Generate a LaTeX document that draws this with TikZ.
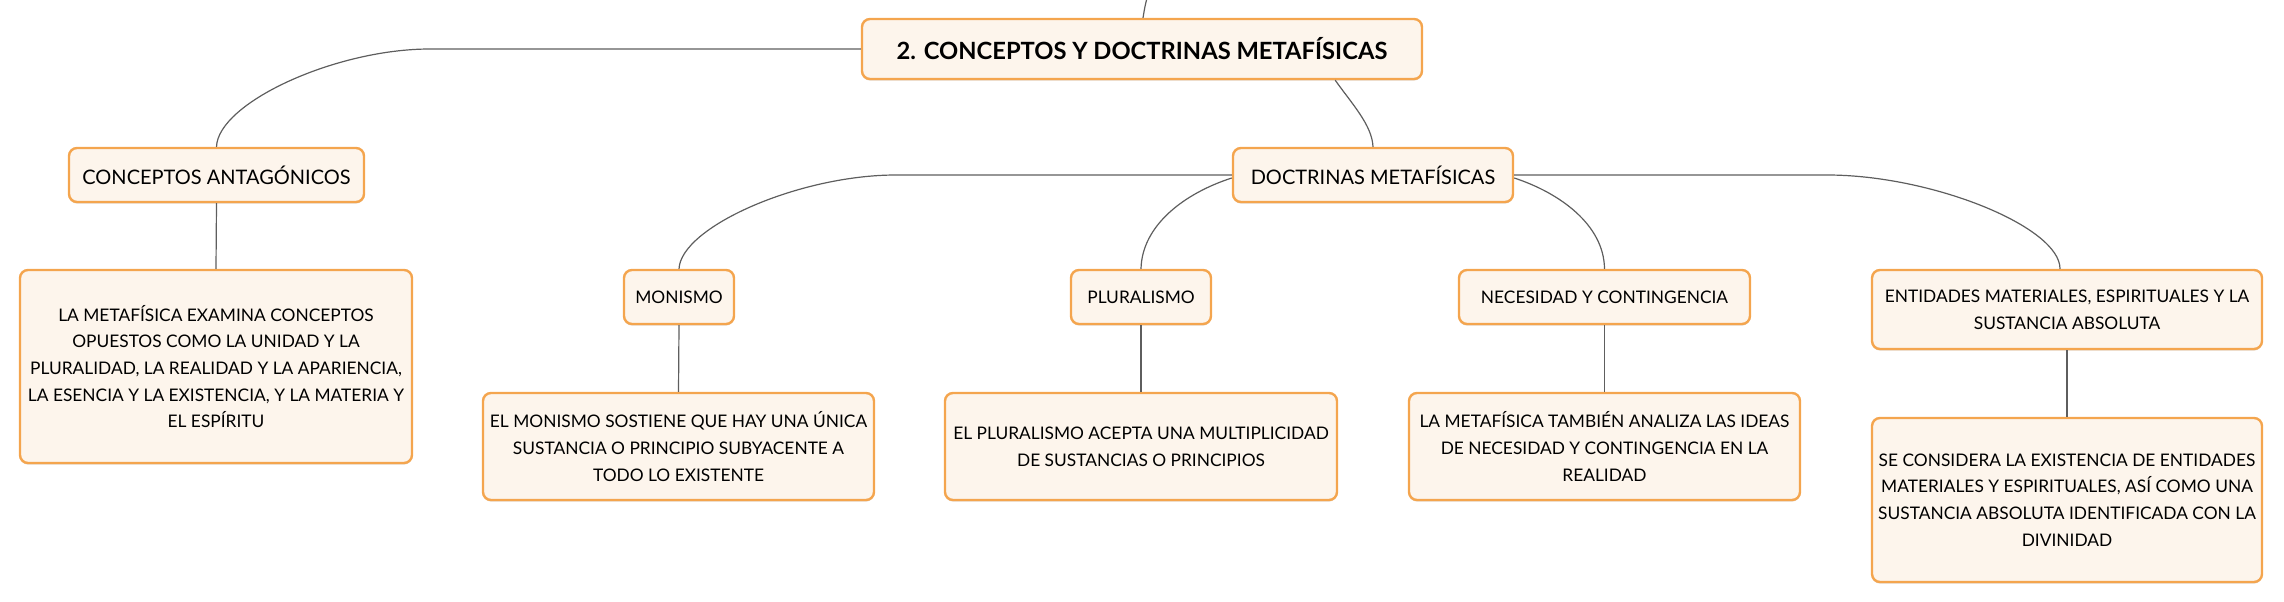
\documentclass[tikz,border=0pt]{standalone}
\usepackage{fontspec}
\setmainfont{Lato}
\usetikzlibrary{shadows}
\definecolor{boxfill}{HTML}{FDF5EC}
\definecolor{boxline}{HTML}{F4A54E}
\definecolor{connc}{HTML}{5E5E5E}
\begin{document}
\begin{tikzpicture}[x=0.75pt,y=-0.75pt,
  box/.style={draw=boxline, fill=boxfill, line width=1.8pt, rounded corners=6pt,
    inner sep=0pt, align=center, text=black,
    drop shadow={shadow xshift=0pt, shadow yshift=-1.2pt, fill=boxline!60!black, opacity=0.25}},
  sz/.style 2 args={minimum width=#1*0.75pt, minimum height=#2*0.75pt},
  rootfont/.style={font=\fontsize{17.8}{20}\selectfont\bfseries},
  midfont/.style={font=\fontsize{15}{18}\selectfont},
  descfont/.style={font=\fontsize{13}{20}\selectfont},
  conn/.style={draw=connc, line width=0.9pt}]
\useasboundingbox (0,0) rectangle (2284,602);

% nodes
\node[box, rootfont, sz={560}{60}] (root) at (1142,49) {2. CONCEPTOS Y DOCTRINAS METAFÍSICAS};
\node[box, midfont, sz={295}{54}] (antag) at (216.5,175) {CONCEPTOS ANTAGÓNICOS};
\node[box, midfont, sz={280}{54}] (doct) at (1373,175) {DOCTRINAS METAFÍSICAS};

\node[box, descfont, sz={392}{193}] (antagd) at (216,366.5) {LA METAFÍSICA EXAMINA CONCEPTOS\\OPUESTOS COMO LA UNIDAD Y LA\\PLURALIDAD, LA REALIDAD Y LA APARIENCIA,\\LA ESENCIA Y LA EXISTENCIA, Y LA MATERIA Y\\EL ESPÍRITU};

\node[box, descfont, sz={110}{54}] (mon) at (679,297) {MONISMO};
\node[box, descfont, sz={140}{54}] (plu) at (1141,297) {PLURALISMO};
\node[box, descfont, sz={291}{54}] (nec) at (1604.5,297) {NECESIDAD Y CONTINGENCIA};
\node[box, descfont, sz={390}{79}] (ent) at (2067,309.5) {ENTIDADES MATERIALES, ESPIRITUALES Y LA\\SUSTANCIA ABSOLUTA};

\node[box, descfont, sz={391}{107}] (mond) at (678.5,446.5) {EL MONISMO SOSTIENE QUE HAY UNA ÚNICA\\SUSTANCIA O PRINCIPIO SUBYACENTE A\\TODO LO EXISTENTE};
\node[box, descfont, sz={392}{107}] (plud) at (1141,446.5) {EL PLURALISMO ACEPTA UNA MULTIPLICIDAD\\DE SUSTANCIAS O PRINCIPIOS};
\node[box, descfont, sz={391}{107}] (necd) at (1604.5,446.5) {LA METAFÍSICA TAMBIÉN ANALIZA LAS IDEAS\\DE NECESIDAD Y CONTINGENCIA EN LA\\REALIDAD};
\node[box, descfont, sz={390}{164}] (entd) at (2067,500) {SE CONSIDERA LA EXISTENCIA DE ENTIDADES\\MATERIALES Y ESPIRITUALES, ASÍ COMO UNA\\SUSTANCIA ABSOLUTA IDENTIFICADA CON LA\\DIVINIDAD};

% connectors
\coordinate (up) at (1147,-2);
\draw[conn] (up) .. controls (1145,6) .. ([xshift=0.75pt]root.north);
\draw[conn] (root.west) -- (430,49) .. controls (335,49) and (218,103) .. (antag.north);
\draw[conn] ([xshift=-66pt]root.south east) .. controls (1352,104) and (1372,125) .. (doct.north);
\draw[conn] (doct.west) -- (896,175) .. controls (799,175) and (681,227) .. (mon.north);
\draw[conn] ([yshift=-2.25pt]doct.west) .. controls (1185,193) and (1142,225) .. (plu.north);
\draw[conn] ([yshift=-2.25pt]doct.east) .. controls (1560,193) and (1604,225) .. (nec.north);
\draw[conn] (doct.east) -- (1827,175) .. controls (1932,175) and (2060,227) .. ([xshift=-5.25pt]ent.north);

\draw[conn] (antag.south) -- (antagd.north);
\draw[conn] (mon.south) -- (mond.north);
\draw[conn] (plu.south) -- (plud.north);
\draw[conn] (nec.south) -- (necd.north);
\draw[conn] (ent.south) -- (entd.north);
\end{tikzpicture}
\end{document}
